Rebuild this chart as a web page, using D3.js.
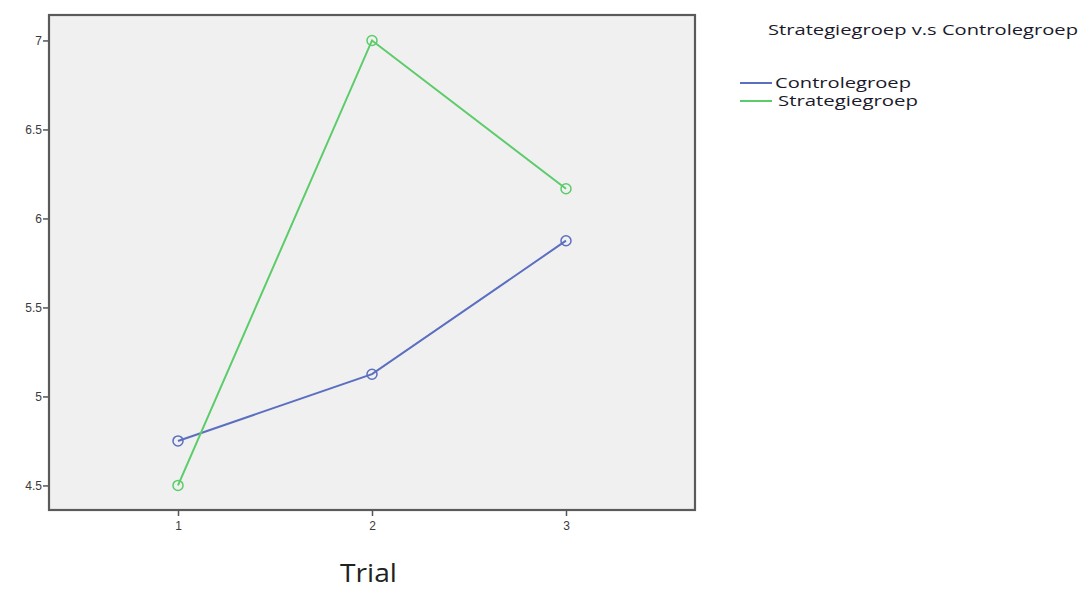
<!DOCTYPE html>
<html><head><meta charset="utf-8">
<script src="https://cdn.jsdelivr.net/npm/d3@7"></script>
<style>body{margin:0;background:#fff}svg{display:block}</style>
</head><body><svg id="c" width="1081" height="590"></svg>
<script>
const trials = [1, 2, 3];
const yTicks = [4.5, 5, 5.5, 6, 6.5, 7];
const seriesNames = ["Controlegroep", "Strategiegroep"];
const controlValues = [4.75, 5.125, 5.875];
const strategyValues = [4.5, 7.0, 6.167];
const seriesColors = ["#5b6fc0", "#5ccc6a"];
const chartTitle = "Strategiegroep v.s Controlegroep";
const xTitle = "Trial";

const svg = d3.select("#c");
const L = 49, R = 695, T = 15, B = 510;
const x = d3.scaleLinear().domain([0.335, 3.665]).range([L, R]);
const y = d3.scaleLinear().domain([4.362, 7.143]).range([B, T]);

svg.append("rect").attr("x", L).attr("y", T).attr("width", R - L).attr("height", B - T)
  .attr("fill", "#f0f0f0");

const gy = svg.append("g").attr("transform", `translate(${L},0)`)
  .call(d3.axisLeft(y).tickValues(yTicks).tickSize(6).tickFormat(d3.format("")));
gy.select(".domain").remove();
gy.selectAll("line").attr("stroke", "#555").attr("stroke-width", 1.5);
gy.selectAll("text").attr("font-family", "Liberation Sans, Arial, sans-serif")
  .attr("font-size", 12).attr("fill", "#3a3a3a").attr("dx", 2);

const gx = svg.append("g").attr("transform", `translate(0,${B})`)
  .call(d3.axisBottom(x).tickValues(trials).tickSize(6).tickFormat(d3.format("d")));
gx.select(".domain").remove();
gx.selectAll("line").attr("stroke", "#555").attr("stroke-width", 1.5);
gx.selectAll("text").attr("font-family", "Liberation Sans, Arial, sans-serif")
  .attr("font-size", 12).attr("fill", "#3a3a3a").attr("dy", "0.9em");

svg.append("rect").attr("x", L).attr("y", T).attr("width", R - L).attr("height", B - T)
  .attr("fill", "none").attr("stroke", "#5a5a5a").attr("stroke-width", 2.2);

const data = [controlValues, strategyValues];
const line = d3.line().x((d, i) => x(trials[i])).y(d => y(d));
data.forEach((vals, k) => {
  svg.append("path").datum(vals).attr("d", line).attr("fill", "none")
    .attr("stroke", seriesColors[k]).attr("stroke-width", 2);
  svg.selectAll(null).data(vals).enter().append("circle")
    .attr("cx", (d, i) => x(trials[i])).attr("cy", d => y(d)).attr("r", 5)
    .attr("fill", "none").attr("stroke", seriesColors[k]).attr("stroke-width", 1.5);
});

svg.append("text").attr("x", 768).attr("y", 35).text(chartTitle)
  .attr("font-family", "Open Sans, Liberation Sans, sans-serif").attr("font-size", 15)
  .attr("textLength", 310).attr("lengthAdjust", "spacingAndGlyphs").attr("fill", "#1a1a2a");

const legY = [83, 101], legTx = [775, 778];
seriesNames.forEach((n, k) => {
  svg.append("line").attr("x1", 740).attr("x2", 772).attr("y1", legY[k]).attr("y2", legY[k])
    .attr("stroke", seriesColors[k]).attr("stroke-width", 2);
  svg.append("text").attr("x", legTx[k]).attr("y", legY[k] + 5).text(n)
    .attr("font-family", "Open Sans, Liberation Sans, sans-serif").attr("font-size", 15)
    .attr("textLength", k === 0 ? 136 : 140).attr("lengthAdjust", "spacingAndGlyphs")
    .attr("fill", "#1a1a2a");
});

svg.append("text").attr("x", 340).attr("y", 582).text(xTitle)
  .attr("font-family", "Open Sans, Liberation Sans, sans-serif").attr("font-size", 25)
  .attr("textLength", 57).attr("lengthAdjust", "spacingAndGlyphs")
  .attr("fill", "#222");
</script></body></html>
